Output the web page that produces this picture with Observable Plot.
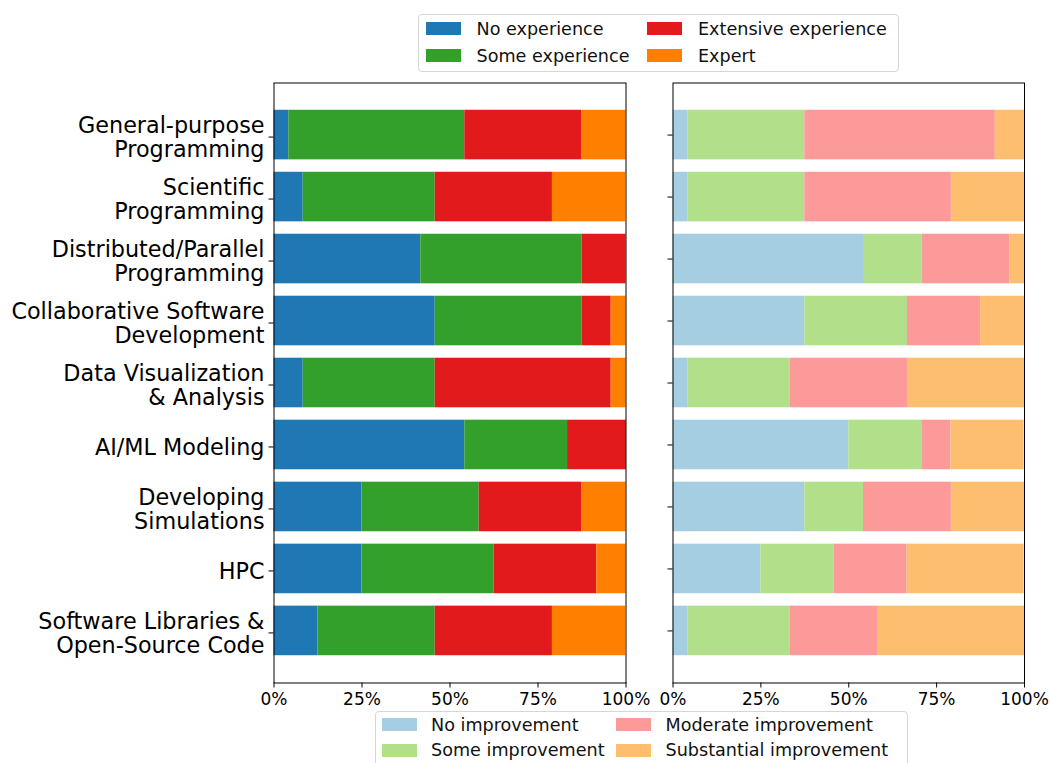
<!DOCTYPE html>
<html>
<head>
<meta charset="utf-8">
<script src="https://cdn.jsdelivr.net/npm/d3@7"></script>
<script src="https://cdn.jsdelivr.net/npm/@observablehq/plot@0.6"></script>
<style>
  html, body { margin: 0; padding: 0; background: white; }
  #root { position: relative; width: 1050px; height: 763px; overflow: hidden; font-family: "DejaVu Sans", sans-serif; }
  .panel { position: absolute; top: 0; }
  .legend { position: absolute; background: rgba(255,255,255,0.8); border: 1px solid #d6d6d6; border-radius: 4px; box-sizing: border-box; z-index: 5; }
  .entry { position: absolute; font-size: 17.6px; color: #111; white-space: nowrap; line-height: 1; }
  .sw { position: absolute; }
</style>
</head>
<body>
<div id="root"></div>
<script>
const categories = [
  "General-purpose\nProgramming",
  "Scientific\nProgramming",
  "Distributed/Parallel\nProgramming",
  "Collaborative Software\nDevelopment",
  "Data Visualization\n& Analysis",
  "AI/ML Modeling",
  "Developing\nSimulations",
  "HPC",
  "Software Libraries &\nOpen-Source Code"
];

const expLevels = ["No experience", "Some experience", "Extensive experience", "Expert"];
const expColors = ["#1f78b4", "#33a02c", "#e31a1c", "#ff7f00"];
const expNo        = [4.2,  8.3, 41.7, 45.8,  8.3, 54.2, 25.0, 25.0, 12.5];
const expSome      = [50.0, 37.5, 45.8, 41.7, 37.5, 29.2, 33.3, 37.5, 33.3];
const expExtensive = [33.3, 33.3, 12.5,  8.3, 50.0, 16.7, 29.2, 29.2, 33.3];
const expExpert    = [12.5, 20.8,  0.0,  4.2,  4.2,  0.0, 12.5,  8.3, 20.8];

const impLevels = ["No improvement", "Some improvement", "Moderate improvement", "Substantial improvement"];
const impColors = ["#a6cee3", "#b2df8a", "#fb9a99", "#fdbf6f"];
const impNo          = [4.2,  4.2, 54.2, 37.5,  4.2, 50.0, 37.5, 25.0,  4.2];
const impSome        = [33.3, 33.3, 16.7, 29.2, 29.2, 20.8, 16.7, 20.8, 29.2];
const impModerate    = [54.2, 41.7, 25.0, 20.8, 33.3,  8.3, 25.0, 20.8, 25.0];
const impSubstantial = [8.3, 20.8,  4.2, 12.5, 33.3, 20.8, 20.8, 33.3, 41.7];

const xTicks = [0, 25, 50, 75, 100];

function toRows(levels, series) {
  const rows = [];
  categories.forEach((c, i) => {
    levels.forEach((lv, j) => rows.push({category: c, level: lv, value: series[j][i]}));
  });
  return rows;
}

const expRows = toRows(expLevels, [expNo, expSome, expExtensive, expExpert]);
const impRows = toRows(impLevels, [impNo, impSome, impModerate, impSubstantial]);

function panel(rows, levels, colors, opts) {
  return Plot.plot({
    width: opts.width,
    height: 720,
    marginTop: 82.5,
    marginBottom: 37.5,
    marginLeft: opts.marginLeft,
    marginRight: opts.marginRight,
    style: {fontFamily: "DejaVu Sans, sans-serif", fontSize: "17px", color: "black", background: "transparent"},
    x: {domain: [0, 100], label: null},
    y: {domain: categories, label: null, paddingInner: 0.2, paddingOuter: 0.44, round: false},
    color: {domain: levels, range: colors},
    marks: [
      Plot.barX(rows, Plot.stackX({x: "value", y: "category", fill: "level", order: levels, inset: 0})),
      Plot.axisX({ticks: xTicks, tickFormat: d => d + "%", tickSize: 5, tickPadding: 5, fontSize: 17, stroke: "black", fill: "black"}),
      opts.showLabels
        ? Plot.axisY({tickSize: 5, tickPadding: 4.5, fontSize: 22.3, lineHeight: 1.09, dy: 2, fill: "black", stroke: "black"})
        : Plot.axisY({tickSize: 5, tickFormat: () => "", stroke: "black"}),
      Plot.frame({stroke: "black", strokeWidth: 1})
    ]
  });
}

const root = document.getElementById("root");

const left = document.createElement("div");
left.className = "panel"; left.style.left = "0px";
left.appendChild(panel(expRows, expLevels, expColors, {width: 650, marginLeft: 273.5, marginRight: 24.5, showLabels: true}));
root.appendChild(left);

const right = document.createElement("div");
right.className = "panel"; right.style.left = "645px";
right.appendChild(panel(impRows, impLevels, impColors, {width: 405, marginLeft: 27.5, marginRight: 26, showLabels: false}));
root.appendChild(right);

function legend(levels, colors, box) {
  const lg = document.createElement("div");
  lg.className = "legend";
  Object.assign(lg.style, {left: box.left + "px", top: box.top + "px", width: box.width + "px", height: box.height + "px"});
  levels.forEach((lv, k) => {
    const col = Math.floor(k / 2), row = k % 2;
    const sw = document.createElement("div");
    sw.className = "sw";
    Object.assign(sw.style, {
      left: (box.swX[col] - box.left - 1) + "px",
      top: (box.rowY[row] - box.top - 1 - 6.2) + "px",
      width: "35px", height: "12.5px", background: colors[k]
    });
    lg.appendChild(sw);
    const tx = document.createElement("div");
    tx.className = "entry";
    tx.textContent = lv;
    Object.assign(tx.style, {
      left: (box.txX[col] - box.left - 1) + "px",
      top: (box.rowY[row] - box.top - 1 - 8) + "px"
    });
    lg.appendChild(tx);
  });
  root.appendChild(lg);
}

legend(expLevels, expColors, {left: 418, top: 14, width: 481, height: 58, swX: [426, 647], txX: [476.5, 698], rowY: [28.5, 55.5]});
legend(impLevels, impColors, {left: 374.5, top: 710.5, width: 533, height: 60, swX: [381.5, 616], txX: [431, 665.5], rowY: [724.5, 750.3]});
</script>
</body>
</html>
